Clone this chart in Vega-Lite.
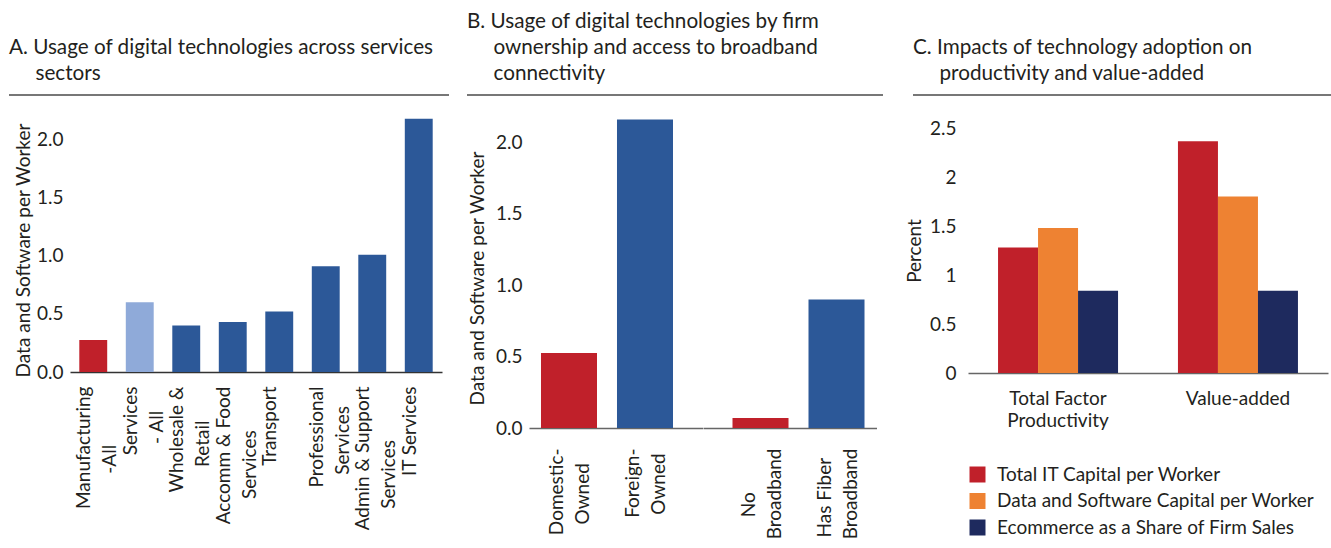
{
  "$schema": "https://vega.github.io/schema/vega-lite/v6.json",
  "padding": {"left": 8, "top": 11, "right": 0, "bottom": 0},
  "config": {
    "font": "Lato",
    "view": {"stroke": null},
    "title": {"anchor": "start", "frame": "group", "fontSize": 20.7, "fontWeight": "normal", "color": "#231f20", "lineHeight": 26, "offset": 9},
    "axis": {"labelFontSize": 19, "titleFontSize": 19, "titleFontWeight": "normal", "labelColor": "#231f20", "titleColor": "#231f20", "ticks": false, "tickSize": 0, "grid": false, "domainWidth": 1.5, "labelLimit": 300},
    "axisY": {"domain": false}
  },
  "resolve": {"scale": {"color": "independent"}},
  "spacing": 22,
  "vconcat": [
    {
      "spacing": 28,
      "resolve": {"scale": {"color": "independent"}},
      "hconcat": [
        {
          "spacing": 16,
          "hconcat": [
            {
              "width": 440,
              "height": 1,
              "title": {"text": ["A. Usage of digital technologies across services", "\u200b\u00a0\u00a0\u00a0\u00a0\u00a0sectors"]},
              "data": {"values": [{"line": 0}]},
              "mark": {"type": "rule", "color": "#4a4a4a", "strokeWidth": 1.5},
              "encoding": {"y": {"field": "line", "type": "quantitative", "scale": {"domain": [0, 1]}, "axis": null}}
            },
            {
              "width": 416,
              "height": 1,
              "title": {"text": ["B. Usage of digital technologies by firm", "\u200b\u00a0\u00a0\u00a0\u00a0\u00a0ownership and access to broadband", "\u200b\u00a0\u00a0\u00a0\u00a0\u00a0connectivity"]},
              "data": {"values": [{"line": 0}]},
              "mark": {"type": "rule", "color": "#4a4a4a", "strokeWidth": 1.5},
              "encoding": {"y": {"field": "line", "type": "quantitative", "scale": {"domain": [0, 1]}, "axis": null}}
            }
          ]
        },
        {
          "width": 423,
          "height": 1,
          "title": {"text": ["C. Impacts of technology adoption on", "\u200b\u00a0\u00a0\u00a0\u00a0\u00a0productivity and value-added"]},
          "data": {"values": [{"line": 0}]},
          "mark": {"type": "rule", "color": "#4a4a4a", "strokeWidth": 1.5},
          "encoding": {"y": {"field": "line", "type": "quantitative", "scale": {"domain": [0, 1]}, "axis": null}}
        }
      ]
    },
    {
      "spacing": 28,
      "resolve": {"scale": {"color": "independent"}},
      "hconcat": [
        {
          "spacing": 4,
          "resolve": {"scale": {"color": "independent"}},
          "hconcat": [
            {
              "width": 1,
              "height": 1,
              "data": {"values": []},
              "mark": {"type": "rule"},
              "encoding": {}
            },
            {
              "spacing": 26,
              "resolve": {"scale": {"color": "independent"}},
              "hconcat": [
                {
                  "width": 372,
                  "height": 244,
                  "data": {"values": [
                    {"sector": "Manufacturing -All", "scope": "Manufacturing", "value": 0.276},
                    {"sector": "Services - All", "scope": "All services", "value": 0.6},
                    {"sector": "Wholesale & Retail", "scope": "Services subsector", "value": 0.4},
                    {"sector": "Accomm & Food Services", "scope": "Services subsector", "value": 0.43},
                    {"sector": "Transport", "scope": "Services subsector", "value": 0.52},
                    {"sector": "Professional Services", "scope": "Services subsector", "value": 0.91},
                    {"sector": "Admin & Support Services", "scope": "Services subsector", "value": 1.01},
                    {"sector": "IT Services", "scope": "Services subsector", "value": 2.18}
                  ]},
                  "mark": {"type": "bar"},
                  "encoding": {
                    "x": {"field": "sector", "type": "nominal", "sort": null,
                      "scale": {"paddingInner": 0.4, "paddingOuter": 0.2},
                      "axis": {"title": null, "labelAngle": -90, "labelAlign": "right", "labelBaseline": "middle", "labelPadding": 14, "labelLineHeight": 26, "labelOffset": -9, "domainColor": "#333",
                        "labelExpr": "({'Manufacturing -All': ['Manufacturing', '-All\u00a0\u00a0\u00a0\u00a0\u00a0\u00a0\u00a0\u00a0\u00a0\u00a0\u00a0\u00a0\u200b'], 'Services - All': ['Services', '- All\u00a0\u00a0\u00a0\u00a0\u00a0\u200b'], 'Wholesale & Retail': ['Wholesale &', 'Retail\u00a0\u00a0\u00a0\u00a0\u00a0\u00a0\u00a0\u200b'], 'Accomm & Food Services': ['Accomm & Food', 'Services\u00a0\u00a0\u00a0\u00a0\u00a0\u00a0\u00a0\u00a0\u00a0\u200b'], 'Transport': 'Transport', 'Professional Services': ['Professional', 'Services\u00a0\u00a0\u00a0\u00a0\u200b'], 'Admin & Support Services': ['Admin & Support', 'Services\u00a0\u00a0\u00a0\u00a0\u00a0\u00a0\u00a0\u00a0\u00a0\u00a0\u00a0\u200b'], 'IT Services': 'IT Services'})[datum.value]"}},
                    "y": {"field": "value", "type": "quantitative", "scale": {"domain": [0, 2.1], "nice": false},
                      "axis": {"title": "Data and Software per Worker", "values": [0, 0.5, 1, 1.5, 2], "format": ".1f", "labelPadding": 7, "titlePadding": 3}},
                    "color": {"field": "scope", "type": "nominal", "sort": null,
                      "scale": {"domain": ["Manufacturing", "All services", "Services subsector"], "range": ["#C0202A", "#8FAAD9", "#2C5898"]}, "legend": null}
                  }
                },
                {
                  "spacing": 0,
                  "resolve": {"scale": {"color": "independent"}},
                  "hconcat": [
                    {
                      "width": 173.5,
                      "height": 300,
                      "data": {"values": [
                        {"firm": "Domestic-Owned", "tier": "lower", "value": 0.525},
                        {"firm": "Foreign-Owned", "tier": "higher", "value": 2.16}
                      ]},
                      "mark": {"type": "bar"},
                      "encoding": {
                        "x": {"field": "firm", "type": "nominal", "sort": null,
                          "scale": {"paddingInner": 0.263, "paddingOuter": 0.273, "align": 0.289},
                          "axis": {"title": null, "labelAngle": -90, "labelAlign": "right", "labelBaseline": "middle", "labelPadding": 20, "labelLineHeight": 26, "labelOffset": -12, "domainColor": "#666",
                            "labelExpr": "({'Domestic-Owned': ['Domestic-', 'Owned\u00a0\u00a0\u00a0\u200b'], 'Foreign-Owned': ['Foreign-', 'Owned\u00a0\u200b']})[datum.value]"}},
                        "y": {"field": "value", "type": "quantitative", "scale": {"domain": [0, 2.1], "nice": false},
                          "axis": {"title": "Data and Software per Worker", "values": [0, 0.5, 1, 1.5, 2], "format": ".1f", "labelPadding": 7, "titlePadding": 8}},
                        "color": {"field": "tier", "type": "nominal", "scale": {"domain": ["lower", "higher"], "range": ["#C0202A", "#2C5898"]}, "legend": null}
                      }
                    },
                    {
                      "width": 173.5,
                      "height": 300,
                      "data": {"values": [
                        {"firm": "No Broadband", "tier": "lower", "value": 0.07},
                        {"firm": "Has Fiber Broadband", "tier": "higher", "value": 0.9}
                      ]},
                      "mark": {"type": "bar"},
                      "encoding": {
                        "x": {"field": "firm", "type": "nominal", "sort": null,
                          "scale": {"paddingInner": 0.263, "paddingOuter": 0.273, "align": 0.711},
                          "axis": {"title": null, "labelAngle": -90, "labelAlign": "right", "labelBaseline": "middle", "labelPadding": 20, "labelLineHeight": 26, "labelOffset": -12, "domainColor": "#666",
                            "labelExpr": "({'No Broadband': ['No\u00a0\u00a0\u00a0\u00a0\u00a0\u00a0\u00a0\u00a0\u00a0\u200b', 'Broadband'], 'Has Fiber Broadband': ['Has Fiber\u00a0\u00a0\u200b', 'Broadband']})[datum.value]"}},
                        "y": {"field": "value", "type": "quantitative", "scale": {"domain": [0, 2.1], "nice": false}, "axis": null},
                        "color": {"field": "tier", "type": "nominal", "scale": {"domain": ["lower", "higher"], "range": ["#C0202A", "#2C5898"]}, "legend": null}
                      }
                    }
                  ]
                }
              ]
            }
          ]
        },
        {
          "width": 360,
          "height": 245,
          "data": {"values": [
            {"outcome": "Total Factor Productivity", "measure": "Total IT Capital per Worker", "value": 1.28},
            {"outcome": "Total Factor Productivity", "measure": "Data and Software Capital per Worker", "value": 1.48},
            {"outcome": "Total Factor Productivity", "measure": "Ecommerce as a Share of Firm Sales", "value": 0.84},
            {"outcome": "Value-added", "measure": "Total IT Capital per Worker", "value": 2.365},
            {"outcome": "Value-added", "measure": "Data and Software Capital per Worker", "value": 1.8},
            {"outcome": "Value-added", "measure": "Ecommerce as a Share of Firm Sales", "value": 0.84}
          ]},
          "mark": {"type": "bar"},
          "encoding": {
            "x": {"field": "outcome", "type": "nominal", "sort": null,
              "scale": {"paddingInner": 0.333, "paddingOuter": 0.167},
              "axis": {"title": null, "labelAngle": 0, "labelAlign": "center", "labelBaseline": "top", "labelPadding": 16, "labelLineHeight": 22, "domainColor": "#666",
                "labelExpr": "datum.value == 'Total Factor Productivity' ? ['Total Factor', 'Productivity'] : datum.label"}},
            "xOffset": {"field": "measure", "type": "nominal", "sort": null, "scale": {"paddingInner": 0, "paddingOuter": 0}},
            "y": {"field": "value", "type": "quantitative", "scale": {"domain": [0, 2.5], "nice": false},
              "axis": {"title": "Percent", "values": [0, 0.5, 1, 1.5, 2, 2.5], "format": "~g", "labelPadding": 12, "titlePadding": 5}},
            "color": {"field": "measure", "type": "nominal", "sort": null,
              "scale": {"domain": ["Total IT Capital per Worker", "Data and Software Capital per Worker", "Ecommerce as a Share of Firm Sales"], "range": ["#C0202A", "#EE8232", "#1E2A5E"]},
              "legend": {"orient": "bottom", "direction": "vertical", "title": null, "symbolType": "square", "symbolSize": 256, "symbolStrokeWidth": 0, "symbolOpacity": 1, "labelFontSize": 19, "labelColor": "#231f20", "labelOffset": 10, "rowPadding": 6.5, "offset": 35, "labelLimit": 400}}
          }
        }
      ]
    }
  ]
}
